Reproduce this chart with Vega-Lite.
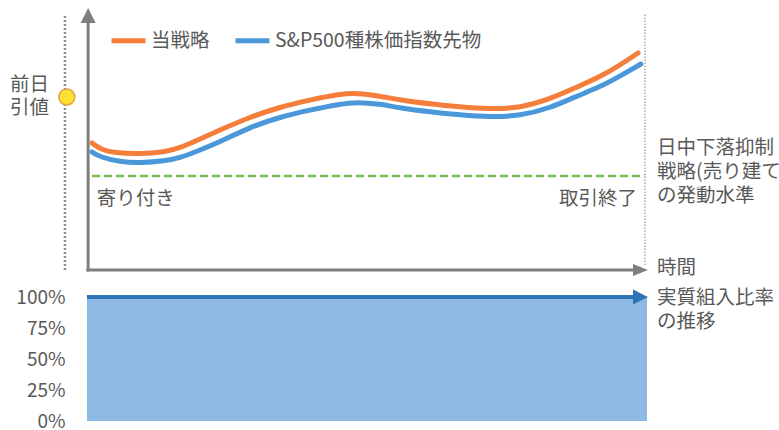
{
  "$schema": "https://vega.github.io/schema/vega-lite/v6.json",
  "width": 779,
  "height": 430,
  "autosize": {"type": "none"},
  "padding": 0,
  "background": "white",
  "config": {"view": {"stroke": null}, "font": "Noto Sans CJK JP"},
  "layer": [
    {
      "encoding": {
        "x": {"field": "t", "type": "quantitative", "scale": {"domain": [0, 100], "range": [87, 647], "nice": false, "zero": false}, "axis": null},
        "y": {"field": "v", "type": "quantitative", "scale": {"domain": [0, 131], "range": [270, 8], "nice": false, "zero": false}, "axis": null}
      },
      "layer": [
        {
          "data": {"values": [{"t": -3.93, "v": 0, "v2": 127.5}]},
          "mark": {"type": "rule", "color": "#8c8c8c", "strokeWidth": 2.5, "strokeDash": [2, 2]},
          "encoding": {"y2": {"field": "v2"}}
        },
        {
          "data": {"values": [{"t": 99.64, "v": 2.5, "v2": 128}]},
          "mark": {"type": "rule", "color": "#aaaaaa", "strokeWidth": 1.5, "strokeDash": [1.5, 1.5]},
          "encoding": {"y2": {"field": "v2"}}
        },
        {
          "data": {"values": [{"t": 0.9, "t2": 99.6, "v": 47}]},
          "mark": {"type": "rule", "color": "#78BB55", "strokeWidth": 2.5, "strokeDash": [8, 4]},
          "encoding": {"x2": {"field": "t2"}}
        },
        {
          "data": {"values": [{"t": 0.2, "v": -0.75, "v2": 124}]},
          "mark": {"type": "rule", "color": "#7f7f7f", "strokeWidth": 3},
          "encoding": {"y2": {"field": "v2"}}
        },
        {
          "data": {"values": [{"t": -0.1, "t2": 98, "v": 0}]},
          "mark": {"type": "rule", "color": "#7f7f7f", "strokeWidth": 3},
          "encoding": {"x2": {"field": "t2"}}
        },
        {
          "data": {"values": [{"t": 0.2, "v": 127.25}]},
          "mark": {"type": "point", "shape": "M-1,1L0,-1L1,1Z", "filled": true, "size": 225, "color": "#7f7f7f", "opacity": 1}
        },
        {
          "data": {"values": [{"t": 98.84, "v": 0}]},
          "mark": {"type": "point", "shape": "M-1,-0.8L1,0L-1,0.8Z", "filled": true, "size": 225, "color": "#7f7f7f", "opacity": 1}
        },
        {
          "data": {"values": [{"t": -3.6, "v": 86.5}]},
          "mark": {"type": "point", "shape": "circle", "filled": true, "size": 254, "fill": "#FFE135", "stroke": "#E3A33A", "strokeWidth": 1.5, "opacity": 1}
        },
        {
          "data": {"values": [
            {"series": "当戦略", "t": 0.9, "v": 63.5}, {"series": "当戦略", "t": 2.3, "v": 60.5}, {"series": "当戦略", "t": 5.0, "v": 58.5},
            {"series": "当戦略", "t": 9.5, "v": 58}, {"series": "当戦略", "t": 13.9, "v": 59}, {"series": "当戦略", "t": 16.6, "v": 61},
            {"series": "当戦略", "t": 20.2, "v": 65.5}, {"series": "当戦略", "t": 23.75, "v": 70}, {"series": "当戦略", "t": 29.1, "v": 76.5},
            {"series": "当戦略", "t": 34.5, "v": 81.5}, {"series": "当戦略", "t": 39.8, "v": 85}, {"series": "当戦略", "t": 45.2, "v": 88},
            {"series": "当戦略", "t": 48.2, "v": 88.5},
            {"series": "当戦略", "t": 52.3, "v": 87}, {"series": "当戦略", "t": 55.9, "v": 85}, {"series": "当戦略", "t": 61.3, "v": 83},
            {"series": "当戦略", "t": 66.6, "v": 81.5}, {"series": "当戦略", "t": 72.0, "v": 80.5}, {"series": "当戦略", "t": 77.3, "v": 81},
            {"series": "当戦略", "t": 82.7, "v": 85.5}, {"series": "当戦略", "t": 87.1, "v": 91}, {"series": "当戦略", "t": 91.6, "v": 96.5},
            {"series": "当戦略", "t": 95.2, "v": 102.5}, {"series": "当戦略", "t": 98.4, "v": 108.5},
            {"series": "S&P500種株価指数先物", "t": 0.9, "v": 59}, {"series": "S&P500種株価指数先物", "t": 2.3, "v": 56.5}, {"series": "S&P500種株価指数先物", "t": 5.9, "v": 54},
            {"series": "S&P500種株価指数先物", "t": 9.5, "v": 53.5}, {"series": "S&P500種株価指数先物", "t": 13.9, "v": 54.5}, {"series": "S&P500種株価指数先物", "t": 16.6, "v": 56},
            {"series": "S&P500種株価指数先物", "t": 20.2, "v": 60}, {"series": "S&P500種株価指数先物", "t": 23.75, "v": 64}, {"series": "S&P500種株価指数先物", "t": 29.1, "v": 71.5},
            {"series": "S&P500種株価指数先物", "t": 34.5, "v": 76.5}, {"series": "S&P500種株価指数先物", "t": 39.8, "v": 80}, {"series": "S&P500種株価指数先物", "t": 45.2, "v": 83},
            {"series": "S&P500種株価指数先物", "t": 48.2, "v": 84},
            {"series": "S&P500種株価指数先物", "t": 52.3, "v": 83}, {"series": "S&P500種株価指数先物", "t": 55.9, "v": 81}, {"series": "S&P500種株価指数先物", "t": 61.3, "v": 79},
            {"series": "S&P500種株価指数先物", "t": 66.6, "v": 77.5}, {"series": "S&P500種株価指数先物", "t": 72.0, "v": 76.5}, {"series": "S&P500種株価指数先物", "t": 77.3, "v": 77},
            {"series": "S&P500種株価指数先物", "t": 82.7, "v": 81}, {"series": "S&P500種株価指数先物", "t": 87.1, "v": 86.5}, {"series": "S&P500種株価指数先物", "t": 91.6, "v": 91.5},
            {"series": "S&P500種株価指数先物", "t": 95.2, "v": 97}, {"series": "S&P500種株価指数先物", "t": 98.9, "v": 103}
          ]},
          "mark": {"type": "line", "strokeWidth": 5, "interpolate": "basis", "strokeCap": "round"},
          "encoding": {
            "color": {
              "field": "series", "type": "nominal",
              "scale": {"domain": ["当戦略", "S&P500種株価指数先物"], "range": ["#F57E3A", "#4A97D9"]},
              "legend": {
                "orient": "none", "legendX": 109, "legendY": 21, "direction": "horizontal", "title": null,
                "symbolType": "stroke", "symbolSize": 1156, "symbolStrokeWidth": 5, "padding": 0,
                "labelFontSize": 19.5, "labelColor": "#595959", "labelFont": "Noto Sans CJK JP", "labelLimit": 0,
                "labelOffset": 3, "columnPadding": 15
              }
            }
          }
        },
        {
          "data": {"values": [
            {"t": -13.75, "v": 92.5, "label": "前日"},
            {"t": -13.75, "v": 81, "label": "引値"},
            {"t": 1.75, "v": 35.5, "label": "寄り付き"},
            {"t": 101.8, "v": 61, "label": "日中下落抑制"},
            {"t": 101.8, "v": 49, "label": "戦略(売り建て"},
            {"t": 101.8, "v": 37, "label": "の発動水準"},
            {"t": 101.8, "v": 1, "label": "時間"}
          ]},
          "mark": {"type": "text", "align": "left", "baseline": "middle", "fontSize": 19.5, "color": "#595959", "font": "Noto Sans CJK JP"},
          "encoding": {"text": {"field": "label"}}
        },
        {
          "data": {"values": [{"t": 98.2, "v": 35.5, "label": "取引終了"}]},
          "mark": {"type": "text", "align": "right", "baseline": "middle", "fontSize": 19.5, "color": "#595959", "font": "Noto Sans CJK JP"},
          "encoding": {"text": {"field": "label"}}
        }
      ]
    },
    {
      "encoding": {
        "x": {"field": "t", "type": "quantitative", "scale": {"domain": [0, 100], "range": [87, 647], "nice": false, "zero": false}, "axis": null},
        "y": {
          "field": "p", "type": "quantitative",
          "scale": {"domain": [0, 1], "range": [421, 297], "nice": false},
          "axis": {
            "orient": "left", "offset": -87, "values": [0, 0.25, 0.5, 0.75, 1], "format": ".0%",
            "domain": false, "ticks": false, "tickSize": 0, "grid": false, "title": null,
            "labelPadding": 22, "labelFontSize": 19, "labelColor": "#595959", "labelFont": "Noto Sans CJK JP"
          }
        }
      },
      "layer": [
        {
          "data": {"values": [{"t": 0, "p": 1}, {"t": 100, "p": 1}]},
          "mark": {"type": "area", "color": "#8DB9E2", "opacity": 1}
        },
        {
          "data": {"values": [{"t": 0, "t2": 98, "p": 1}]},
          "mark": {"type": "rule", "color": "#2E75B6", "strokeWidth": 4},
          "encoding": {"x2": {"field": "t2"}}
        },
        {
          "data": {"values": [{"t": 98.84, "p": 1}]},
          "mark": {"type": "point", "shape": "M-1,-1L1,0L-1,1Z", "filled": true, "size": 225, "color": "#2E75B6", "opacity": 1}
        },
        {
          "data": {"values": [
            {"t": 101.8, "p": 0.99, "label": "実質組入比率"},
            {"t": 101.8, "p": 0.8, "label": "の推移"}
          ]},
          "mark": {"type": "text", "align": "left", "baseline": "middle", "fontSize": 19.5, "color": "#595959", "font": "Noto Sans CJK JP"},
          "encoding": {"text": {"field": "label"}}
        }
      ]
    }
  ],
  "resolve": {"scale": {"y": "independent"}, "axis": {"y": "independent"}}
}
